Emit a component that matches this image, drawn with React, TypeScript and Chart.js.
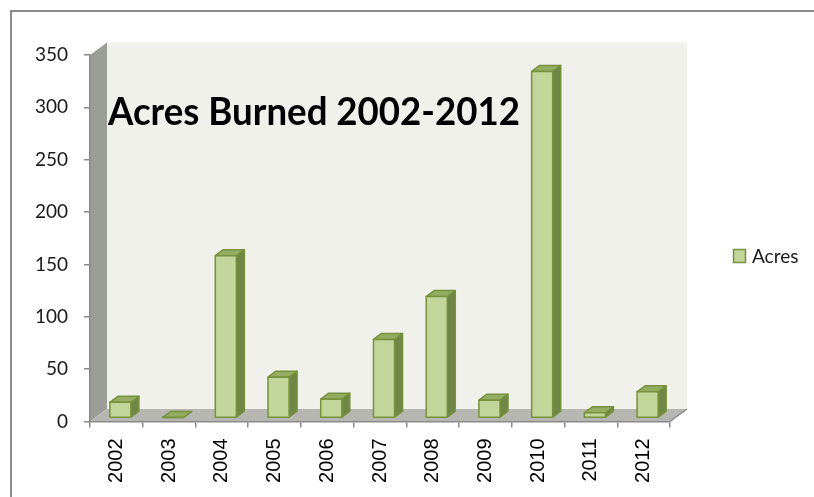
import React, { useEffect, useRef } from "react";
import { Chart, registerables } from "chart.js";

Chart.register(...registerables);

const years = ["2002", "2003", "2004", "2005", "2006", "2007", "2008", "2009", "2010", "2011", "2012"];
const acres = [15, 0.5, 155, 39, 18, 75, 116, 17, 331, 5, 25];
const yMin = 0;
const yMax = 350;
const yStep = 50;
const chartTitle = "Acres Burned 2002-2012";
const seriesLabel = "Acres";

const FRONT = "#c2d59a";
const TOP = "#94ad62";
const SIDE = "#6f8646";
const EDGE = "#76923c";
const LEFT_WALL = "#9b9d97";
const BACK_WALL = "#eff1ea";
const FLOOR = "#b5b7b0";
const AXIS = "#8a8a8a";

const WALL_DX = 17;
const WALL_DY = -12.5;
const BAR_DX = 8;
const BAR_DY = -6;
const BAR_SHIFT_X = 4;
const BAR_SHIFT_Y = -3.5;

const scene3d = {
  id: "scene3d",
  beforeDraw(chart: any) {
    const { ctx, chartArea: a } = chart;
    ctx.save();
    ctx.fillStyle = BACK_WALL;
    ctx.fillRect(a.left + WALL_DX, a.top + WALL_DY, a.right - a.left, a.bottom - a.top);
    ctx.fillStyle = LEFT_WALL;
    ctx.beginPath();
    ctx.moveTo(a.left, a.bottom);
    ctx.lineTo(a.left, a.top);
    ctx.lineTo(a.left + WALL_DX, a.top + WALL_DY);
    ctx.lineTo(a.left + WALL_DX, a.bottom + WALL_DY);
    ctx.closePath();
    ctx.fill();
    ctx.fillStyle = FLOOR;
    ctx.beginPath();
    ctx.moveTo(a.left, a.bottom);
    ctx.lineTo(a.right, a.bottom);
    ctx.lineTo(a.right + WALL_DX, a.bottom + WALL_DY);
    ctx.lineTo(a.left + WALL_DX, a.bottom + WALL_DY);
    ctx.closePath();
    ctx.fill();
    ctx.strokeStyle = AXIS;
    ctx.lineWidth = 1.5;
    ctx.beginPath();
    ctx.moveTo(a.right, a.bottom);
    ctx.lineTo(a.right + WALL_DX, a.bottom + WALL_DY);
    ctx.stroke();
    ctx.restore();
  },
  afterDatasetsDraw(chart: any) {
    const { ctx } = chart;
    const meta = chart.getDatasetMeta(0);
    ctx.save();
    ctx.lineWidth = 1.5;
    ctx.strokeStyle = EDGE;
    ctx.lineJoin = "round";
    meta.data.forEach((el: any) => {
      const p = el.getProps(["x", "y", "base", "width"], true);
      const x0 = p.x - p.width / 2 + BAR_SHIFT_X;
      const x1 = x0 + p.width;
      const yT = p.y + BAR_SHIFT_Y;
      const yB = p.base + BAR_SHIFT_Y;
      ctx.fillStyle = SIDE;
      ctx.beginPath();
      ctx.moveTo(x1, yB);
      ctx.lineTo(x1 + BAR_DX, yB + BAR_DY);
      ctx.lineTo(x1 + BAR_DX, yT + BAR_DY);
      ctx.lineTo(x1, yT);
      ctx.closePath();
      ctx.fill();
      ctx.stroke();
      ctx.fillStyle = TOP;
      ctx.beginPath();
      ctx.moveTo(x0, yT);
      ctx.lineTo(x0 + BAR_DX, yT + BAR_DY);
      ctx.lineTo(x1 + BAR_DX, yT + BAR_DY);
      ctx.lineTo(x1, yT);
      ctx.closePath();
      ctx.fill();
      ctx.stroke();
      ctx.fillStyle = FRONT;
      ctx.fillRect(x0, yT, p.width, yB - yT);
      ctx.strokeRect(x0, yT, p.width, yB - yT);
    });
    ctx.restore();
  },
  afterDraw(chart: any) {
    const { ctx, chartArea: a } = chart;
    ctx.save();
    ctx.font = "bold 39px Lato";
    ctx.fillStyle = "#000";
    ctx.textBaseline = "alphabetic";
    const w = ctx.measureText(chartTitle).width;
    const target = 412;
    ctx.translate(a.left + 18, 125);
    ctx.scale(target / w, 1);
    ctx.fillText(chartTitle, 0, 0);
    ctx.restore();

    ctx.save();
    const lx = 733.5;
    const ly = 249.5;
    ctx.fillStyle = FRONT;
    ctx.fillRect(lx, ly, 12, 13);
    ctx.strokeStyle = EDGE;
    ctx.lineWidth = 1.5;
    ctx.strokeRect(lx, ly, 12, 13);
    ctx.font = "19px Lato";
    ctx.fillStyle = "#1a1a1a";
    ctx.textBaseline = "middle";
    ctx.fillText(chart.data.datasets[0].label, 752, ly + 7);
    ctx.restore();
  },
};

export default function App() {
  const ref = useRef<HTMLCanvasElement | null>(null);

  useEffect(() => {
    document.body.style.margin = "0";
    document.body.style.overflow = "hidden";
    const canvas = ref.current;
    if (!canvas) return;
    const chart = new Chart(canvas, {
      type: "bar",
      data: {
        labels: years,
        datasets: [
          {
            label: seriesLabel,
            data: acres,
            backgroundColor: "rgba(0,0,0,0)",
            borderWidth: 0,
            barPercentage: 0.4,
            categoryPercentage: 1,
          },
        ],
      },
      options: {
        responsive: false,
        animation: false,
        layout: { padding: { left: 0, top: 55, right: 144, bottom: 0 } },
        plugins: {
          legend: { display: false },
          title: { display: false },
          tooltip: { enabled: false },
        },
        scales: {
          x: {
            offset: true,
            grid: {
              display: true,
              drawOnChartArea: false,
              drawTicks: true,
              tickLength: 6,
              color: AXIS,
              lineWidth: 1.5,
              offset: true,
            },
            border: { display: true, color: AXIS, width: 1.5 },
            ticks: {
              minRotation: 90,
              maxRotation: 90,
              padding: 11,
              color: "#000",
              font: { family: "'Liberation Sans', Arial, sans-serif", size: 20 },
            },
            afterFit(scale: any) {
              scale.height = 75.5;
            },
          },
          y: {
            min: yMin,
            max: yMax,
            grid: {
              display: true,
              drawOnChartArea: false,
              drawTicks: true,
              tickLength: 6,
              color: AXIS,
              lineWidth: 1.5,
            },
            border: { display: true, color: AXIS, width: 1.5 },
            ticks: {
              stepSize: yStep,
              padding: 16,
              color: "#1a1a1a",
              font: { family: "Lato, sans-serif", size: 19 },
            },
            afterFit(scale: any) {
              scale.width = 90;
            },
          },
        },
      },
      plugins: [scene3d],
    });
    return () => chart.destroy();
  }, []);

  return (
    <div style={{ position: "fixed", left: 0, top: 0, width: 814, height: 497, overflow: "hidden", background: "#fff" }}>
      <div
        style={{
          position: "absolute",
          left: 10,
          top: 10,
          width: 900,
          height: 600,
          border: "2px solid #8c8c8c",
        }}
      />
      <canvas ref={ref} width={814} height={497} style={{ position: "absolute", left: 0, top: 0 }} />
    </div>
  );
}
